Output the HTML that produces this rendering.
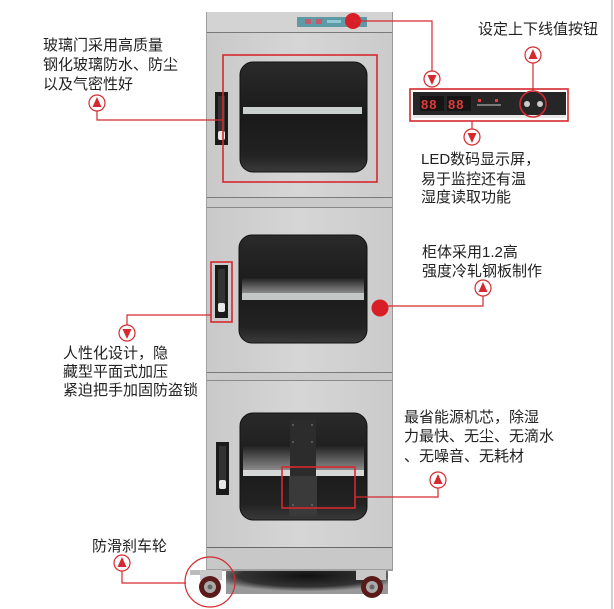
<!DOCTYPE html>
<html><head><meta charset="utf-8"><style>
html,body{margin:0;padding:0;background:#fff;}
svg{display:block;}
text{font-family:"Liberation Sans","Noto Sans CJK SC",sans-serif;font-size:15px;fill:#222;}
</style></head><body>
<svg width="614" height="609" viewBox="0 0 614 609" xmlns="http://www.w3.org/2000/svg">
<defs>
<linearGradient id="win" x1="0" y1="0" x2="0" y2="1">
<stop offset="0" stop-color="#2a2a2a"/><stop offset="0.5" stop-color="#1a1a1a"/><stop offset="0.85" stop-color="#222"/><stop offset="1" stop-color="#3a3a3a"/>
</linearGradient>
<linearGradient id="shelf" x1="0" y1="0" x2="0" y2="1">
<stop offset="0" stop-color="#222"/><stop offset="1" stop-color="#8a8a8a"/>
</linearGradient>
<linearGradient id="door" x1="0" y1="0" x2="1" y2="0">
<stop offset="0" stop-color="#c9c9c9"/><stop offset="0.5" stop-color="#d6d6d6"/><stop offset="1" stop-color="#cbcbcb"/>
</linearGradient>
<radialGradient id="shadow" cx="0.5" cy="0.3" r="0.6">
<stop offset="0" stop-color="#111"/><stop offset="0.7" stop-color="#333"/><stop offset="1" stop-color="#999"/>
</radialGradient>
<g id="arrUp"><circle r="8" fill="#fff" stroke="#d42a2f" stroke-width="1.2"/><path d="M0,-6 L4.5,4 L-4.5,4 Z" fill="#d42a2f"/></g>
<g id="arrDn"><circle r="8" fill="#fff" stroke="#d42a2f" stroke-width="1.2"/><path d="M0,6 L4.5,-4 L-4.5,-4 Z" fill="#d42a2f"/></g>
</defs>

<!-- right border -->
<rect x="611" y="0" width="2" height="609" fill="#d0d0d0"/>

<!-- shadow under cabinet -->
<rect x="226" y="568" width="162" height="26" fill="url(#shadow)"/>

<!-- cabinet body -->
<rect x="206" y="12" width="187" height="559" fill="#c4c4c4"/>
<!-- header -->
<rect x="207" y="12" width="185" height="20" fill="#d3d3d3"/>
<line x1="206" y1="32.5" x2="393" y2="32.5" stroke="#7a7a7a" stroke-width="1"/>
<rect x="297" y="17" width="70" height="10" fill="#5d9aa6"/>
<rect x="305" y="19" width="6" height="5" fill="#c35a6a"/><rect x="316" y="19" width="6" height="5" fill="#c35a6a"/>
<rect x="327" y="20" width="14" height="3" fill="#8fc9d1"/>

<!-- doors -->
<rect x="207" y="33" width="185" height="164" fill="url(#door)"/>
<line x1="206" y1="197.5" x2="393" y2="197.5" stroke="#7a7a7a"/>
<rect x="207" y="198" width="185" height="9" fill="#cacaca"/>
<line x1="206" y1="207.5" x2="393" y2="207.5" stroke="#8a8a8a"/>
<rect x="207" y="208" width="185" height="164" fill="url(#door)"/>
<line x1="206" y1="372.5" x2="393" y2="372.5" stroke="#7a7a7a"/>
<rect x="207" y="373" width="185" height="7" fill="#cacaca"/>
<line x1="206" y1="380.5" x2="393" y2="380.5" stroke="#8a8a8a"/>
<rect x="207" y="381" width="185" height="166" fill="url(#door)"/>
<line x1="206" y1="547.5" x2="393" y2="547.5" stroke="#6a6a6a"/>
<rect x="207" y="548" width="185" height="22" fill="#c8c8c8"/>
<line x1="206" y1="570" x2="393" y2="570" stroke="#777"/>
<line x1="392.5" y1="12" x2="392.5" y2="570" stroke="#9a9a9a"/>
<line x1="206.5" y1="12" x2="206.5" y2="570" stroke="#a0a0a0"/>

<!-- upper window -->
<rect x="240" y="62" width="127" height="110" rx="13" fill="url(#win)" stroke="#111" stroke-width="1"/>
<rect x="243" y="107" width="119" height="7" fill="#c9cfcd"/>
<!-- middle window -->
<rect x="239" y="235" width="128" height="108" rx="13" fill="url(#win)" stroke="#111"/>
<rect x="242" y="278" width="122" height="15" fill="url(#shelf)"/>
<rect x="242" y="293" width="122" height="7" fill="#c3c8c6"/>
<!-- bottom window -->
<rect x="240" y="413" width="127" height="107" rx="13" fill="url(#win)" stroke="#111"/>
<rect x="243" y="446" width="121" height="24" fill="url(#shelf)"/>
<rect x="243" y="470" width="121" height="6" fill="#d5d8d7"/>
<rect x="290" y="420" width="26" height="96" fill="#2c2c2c"/>
<rect x="289" y="476" width="28" height="40" fill="#3a3a3a"/>
<circle cx="293" cy="425" r="1" fill="#666"/><circle cx="312" cy="425" r="1" fill="#666"/>
<circle cx="293" cy="442" r="1" fill="#666"/><circle cx="312" cy="442" r="1" fill="#666"/>
<circle cx="293" cy="505" r="1" fill="#666"/><circle cx="312" cy="505" r="1" fill="#666"/>

<!-- handles -->
<g>
<rect x="215" y="92" width="13" height="53" fill="#1a1a1a"/><rect x="218" y="96" width="7" height="42" fill="#333"/><rect x="218" y="131" width="7" height="9" rx="2" fill="#e8e8e8"/>
<rect x="215" y="265" width="13" height="53" fill="#1a1a1a"/><rect x="218" y="269" width="7" height="42" fill="#333"/><rect x="218" y="303" width="7" height="9" rx="2" fill="#e8e8e8"/>
<rect x="216" y="442" width="13" height="53" fill="#1a1a1a"/><rect x="219" y="446" width="7" height="42" fill="#333"/><rect x="219" y="480" width="7" height="9" rx="2" fill="#e8e8e8"/>
</g>

<!-- wheels -->
<g>
<rect x="190" y="570" width="26" height="5" fill="#bbb"/>
<rect x="200" y="570" width="22" height="10" fill="#c9c9c9"/>
<circle cx="210" cy="587" r="11" fill="#5a1a1a"/><circle cx="210" cy="587" r="6" fill="#aaa"/><circle cx="210" cy="587" r="2.5" fill="#666"/>
<rect x="356" y="570" width="30" height="10" fill="#c9c9c9"/>
<circle cx="372" cy="587" r="11" fill="#5a1a1a"/><circle cx="372" cy="587" r="6" fill="#aaa"/><circle cx="372" cy="587" r="2.5" fill="#666"/>
</g>

<!-- red highlight boxes -->
<g fill="none" stroke="#d42a2f" stroke-width="1.6">
<rect x="223" y="55" width="154" height="127"/>
<rect x="211" y="262" width="21" height="60"/>
<rect x="282" y="467" width="73" height="41"/>
<circle cx="210" cy="582" r="25" stroke-width="1.2"/>
</g>
<circle cx="353" cy="21" r="8" fill="#d81e26"/>
<circle cx="380" cy="308" r="8.5" fill="#d81e26"/>

<!-- connector lines -->
<g fill="none" stroke="#d42a2f" stroke-width="1.2">
<polyline points="353,21 432,21 432,71"/>
<polyline points="97,111 97,120 223,120"/>
<polyline points="388,306 483,306 483,296"/>
<polyline points="211,315 127,315 127,325"/>
<polyline points="355,497 438,497 438,488"/>
<polyline points="122,571 122,583 186,583"/>
<line x1="533" y1="63" x2="533" y2="91"/>
<line x1="472" y1="121" x2="472" y2="129"/>
</g>

<!-- LED panel -->
<rect x="413" y="92" width="153" height="26" fill="#262626"/>
<rect x="413" y="115" width="153" height="3" fill="#e8e8e8"/>
<rect x="420" y="96" width="24" height="15" fill="#151515"/>
<rect x="447" y="96" width="24" height="15" fill="#151515"/>
<text x="421" y="109" style="font-size:13px;fill:#e23a3a;font-weight:bold;letter-spacing:1px">88</text>
<text x="448" y="109" style="font-size:13px;fill:#e23a3a;font-weight:bold;letter-spacing:1px">88</text>
<rect x="478" y="99" width="3" height="3" fill="#e04040"/><rect x="495" y="99" width="3" height="3" fill="#e04040"/>
<rect x="477" y="104" width="24" height="2" fill="#777"/>
<circle cx="527" cy="104" r="3" fill="#ccc"/><circle cx="540" cy="104" r="3" fill="#ccc"/>
<g fill="none" stroke="#d42a2f" stroke-width="1.6">
<rect x="410" y="89" width="158" height="32"/>
<circle cx="533" cy="104" r="13"/>
</g>

<!-- arrow markers -->
<use href="#arrDn" x="432" y="79"/>
<use href="#arrUp" x="533" y="55"/>
<use href="#arrDn" x="472" y="137"/>
<use href="#arrUp" x="97" y="103"/>
<use href="#arrUp" x="483" y="288"/>
<use href="#arrDn" x="127" y="333"/>
<use href="#arrUp" x="438" y="480"/>
<use href="#arrUp" x="122" y="563"/>

<!-- labels -->
<text x="43" y="50">玻璃门采用高质量</text>
<text x="43" y="69.5">钢化玻璃防水、防尘</text>
<text x="43" y="89">以及气密性好</text>

<text x="478" y="34">设定上下线值按钮</text>

<text x="421" y="164">LED数码显示屏，</text>
<text x="421" y="184">易于监控还有温</text>
<text x="421" y="202">湿度读取功能</text>

<text x="422" y="257">柜体采用1.2高</text>
<text x="422" y="276">强度冷轧钢板制作</text>

<text x="63" y="358">人性化设计，隐</text>
<text x="63" y="376.5">藏型平面式加压</text>
<text x="63" y="395">紧迫把手加固防盗锁</text>

<text x="404" y="422">最省能源机芯，除湿</text>
<text x="404" y="441">力最快、无尘、无滴水</text>
<text x="404" y="461">、无噪音、无耗材</text>

<text x="92" y="551">防滑刹车轮</text>
</svg>
</body></html>
